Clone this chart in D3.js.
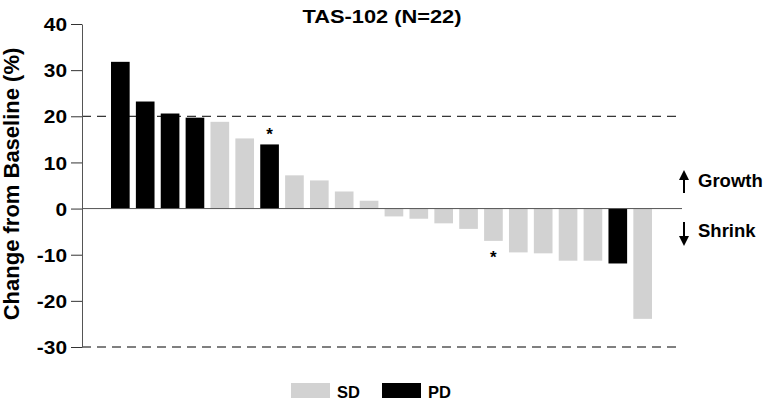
<!DOCTYPE html>
<html>
<head>
<meta charset="utf-8">
<script src="https://cdn.jsdelivr.net/npm/d3@7"></script>
<style>
  body { margin: 0; background: #fff; }
  text { font-family: "Liberation Sans", Arial, sans-serif; font-weight: bold; }
</style>
</head>
<body>
<div class="chart"></div>
<script>
"use strict";

// patients sorted by change, response category and asterisk flag
var patients = d3.range(1, 23);
var changes = [31.8, 23.2, 20.6, 19.7, 18.8, 15.2, 13.9, 7.2, 6.1, 3.7, 1.7,
               -1.7, -2.2, -3.2, -4.4, -7.0, -9.5, -9.7, -11.3, -11.3, -11.9, -23.9];
var response = ["PD", "PD", "PD", "PD", "SD", "SD", "PD", "SD", "SD", "SD", "SD",
                "SD", "SD", "SD", "SD", "SD", "SD", "SD", "SD", "SD", "PD", "SD"];
var starred = [7, 16];
var yTicks = [-30, -20, -10, 0, 10, 20, 30, 40];
var refLines = [20, -30];
var categories = ["SD", "PD"];

var width = 767,
    height = 405;

var color = d3.scaleOrdinal()
    .domain(categories)
    .range(["#d2d2d2", "#000000"]);

var svg = d3.select(".chart")
    .append("svg")
    .attr("width", width)
    .attr("height", height);

var x = d3.scaleBand()
    .domain(patients)
    .range([111, 652])
    .paddingInner(0.25)
    .paddingOuter(0);

var y = d3.scaleLinear()
    .domain([-30, 40])
    .range([347, 24]);

var xEnd = 682;
var stretch = 1.13;

// title
svg.append("text")
    .attr("transform", "translate(382,23) scale(1.18,1)")
    .attr("text-anchor", "middle")
    .style("font-size", "18.5px")
    .text("TAS-102 (N=22)");

// bars
svg.append("g")
    .selectAll("rect")
    .data(patients)
    .enter().append("rect")
        .attr("x", function(d){ return x(d); })
        .attr("width", x.bandwidth())
        .attr("y", function(d, i){ return y(Math.max(0, changes[i])); })
        .attr("height", function(d, i){ return Math.abs(y(changes[i]) - y(0)); })
        .attr("fill", function(d, i){ return color(response[i]); });

// reference lines
svg.append("g")
    .selectAll("line")
    .data(refLines)
    .enter().append("line")
        .attr("x1", 82)
        .attr("x2", xEnd)
        .attr("y1", function(d){ return y(d); })
        .attr("y2", function(d){ return y(d); })
        .attr("stroke", "#000")
        .attr("stroke-width", 1)
        .attr("stroke-dasharray", "9,6");

// zero line
svg.append("line")
    .attr("x1", 82)
    .attr("x2", xEnd)
    .attr("y1", y(0))
    .attr("y2", y(0))
    .attr("stroke", "#555")
    .attr("stroke-width", 1);

// y axis
var yAxis = svg.append("g")
    .attr("transform", "translate(82,0)")
    .call(d3.axisLeft(y)
        .tickValues(yTicks)
        .tickFormat(function(d){ return String(d); })
        .tickSize(11)
        .tickPadding(4)
        .tickSizeOuter(0));

yAxis.select(".domain").attr("stroke", "#555");
yAxis.selectAll(".tick line").attr("stroke", "#333");
yAxis.selectAll(".tick text")
    .attr("fill", "#000")
    .attr("dy", "0.36em")
    .style("font-size", "18.5px")
    .style("font-family", "Liberation Sans, Arial, sans-serif")
    .attr("transform", "translate(-15,0) scale(" + stretch + ",1) translate(15,0)");

// y label
svg.append("text")
    .attr("transform", "translate(19,184) rotate(-90)")
    .attr("text-anchor", "middle")
    .style("font-size", "22px")
    .text("Change from Baseline (%)");

// asterisks
svg.append("g")
    .selectAll("text")
    .data(starred)
    .enter().append("text")
        .attr("x", function(d){ return x(d) + x.bandwidth() / 2; })
        .attr("y", function(d){
            var v = changes[d - 1];
            return v > 0 ? y(v) - 4 : y(v) + 22;
        })
        .attr("text-anchor", "middle")
        .style("font-size", "17px")
        .text("*");

// growth / shrink arrows
svg.append("defs").append("marker")
    .attr("id", "head")
    .attr("viewBox", "0 0 10 10")
    .attr("refX", 8)
    .attr("refY", 5)
    .attr("markerWidth", 5)
    .attr("markerHeight", 5)
    .attr("orient", "auto")
    .append("path")
    .attr("d", "M0,0L10,5L0,10z")
    .attr("fill", "#000");

svg.append("line")
    .attr("x1", 684).attr("x2", 684)
    .attr("y1", 193).attr("y2", 172)
    .attr("stroke", "#000").attr("stroke-width", 2)
    .attr("marker-end", "url(#head)");

svg.append("line")
    .attr("x1", 684).attr("x2", 684)
    .attr("y1", 222).attr("y2", 244)
    .attr("stroke", "#000").attr("stroke-width", 2)
    .attr("marker-end", "url(#head)");

svg.append("text")
    .attr("x", 698)
    .attr("y", 187)
    .style("font-size", "18.5px")
    .text("Growth");

svg.append("text")
    .attr("x", 698)
    .attr("y", 237)
    .style("font-size", "18.5px")
    .text("Shrink");

// legend
var legend = svg.append("g")
    .selectAll("g")
    .data(categories)
    .enter().append("g")
        .attr("transform", function(d, i){ return "translate(" + (291 + i * 91) + ",383)"; });

legend.append("rect")
    .attr("width", 39)
    .attr("height", 15)
    .attr("fill", function(d){ return color(d); });

legend.append("text")
    .attr("x", 46)
    .attr("y", 15)
    .style("font-size", "16.5px")
    .text(function(d){ return d; });
</script>
</body>
</html>
